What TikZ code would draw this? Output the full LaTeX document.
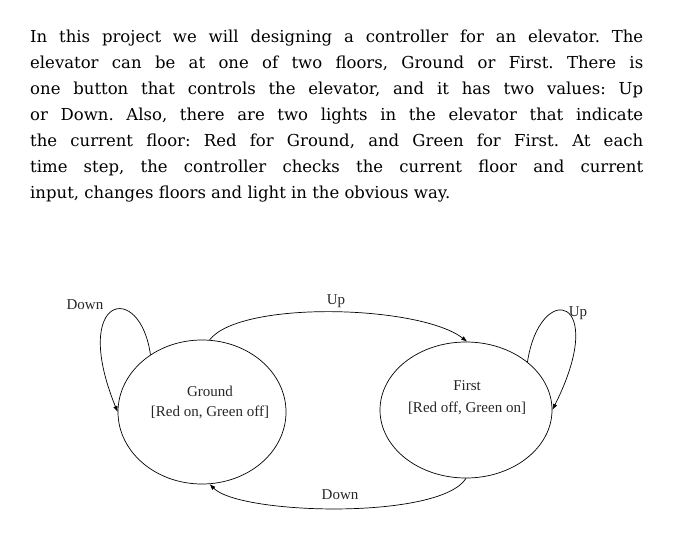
\documentclass[tikz,border=0pt]{standalone}
\usepackage{fontspec}
\setmainfont{Liberation Serif}
\newfontfamily\parafont{DejaVu Serif}
\usetikzlibrary{shapes.geometric,arrows.meta}
\tikzset{state/.style={ellipse,draw,line width=0.7pt,inner sep=0pt},
trans/.style={line width=0.7pt,-{Latex[length=6pt,width=4.5pt]}},
lbl/.style={font=\fontsize{15}{17}\selectfont,text=black!85}}
\frenchspacing
\begin{document}
\begin{tikzpicture}[x=1pt,y=-1pt]
\useasboundingbox (0,0) rectangle (700,532);
\node[anchor=north west,text width=613pt,align=justify,inner sep=0pt,font=\parafont\fontsize{16.5}{26}\selectfont] (para) at (30,30)
{In this project we will designing a controller for an elevator. The\linebreak
elevator can be at one of two floors, Ground or First. There is\linebreak
one button that controls the elevator, and it has two values: Up\linebreak
or Down. Also, there are two lights in the elevator that indicate\linebreak
the current floor: Red for Ground, and Green for First. At each\linebreak
time step, the controller checks the current floor and current\linebreak
input, changes floors and light in the obvious way.};
\node[state,minimum width=168pt,minimum height=144pt] (G) at (202,412) {};
\node[state,minimum width=172pt,minimum height=136pt] (F) at (466,410) {};
\node[lbl] (g1) at (210,391) {Ground};
\node[lbl] (g2) at (210,412) {[Red on, Green off]};
\node[lbl] (f1) at (467,386) {First};
\node[lbl] (f2) at (467,408) {[Red off, Green on]};
\node[lbl] (ld) at (85,305) {Down};
\node[lbl] (lu) at (336,301) {Up};
\node[lbl] (ru) at (578,313) {Up};
\node[lbl] (bd) at (340,495) {Down};
\draw[trans] (G.132) .. controls (140,280) and (70,295) .. (G.180);
\draw[trans] (G.84) .. controls (240,300) and (420,305) .. (F.89);
\draw[trans] (F.38) .. controls (540,280) and (610,295) .. (F.0);
\draw[trans] (F.270) .. controls (440,520) and (240,515) .. (G.276);
\end{tikzpicture}
\end{document}
